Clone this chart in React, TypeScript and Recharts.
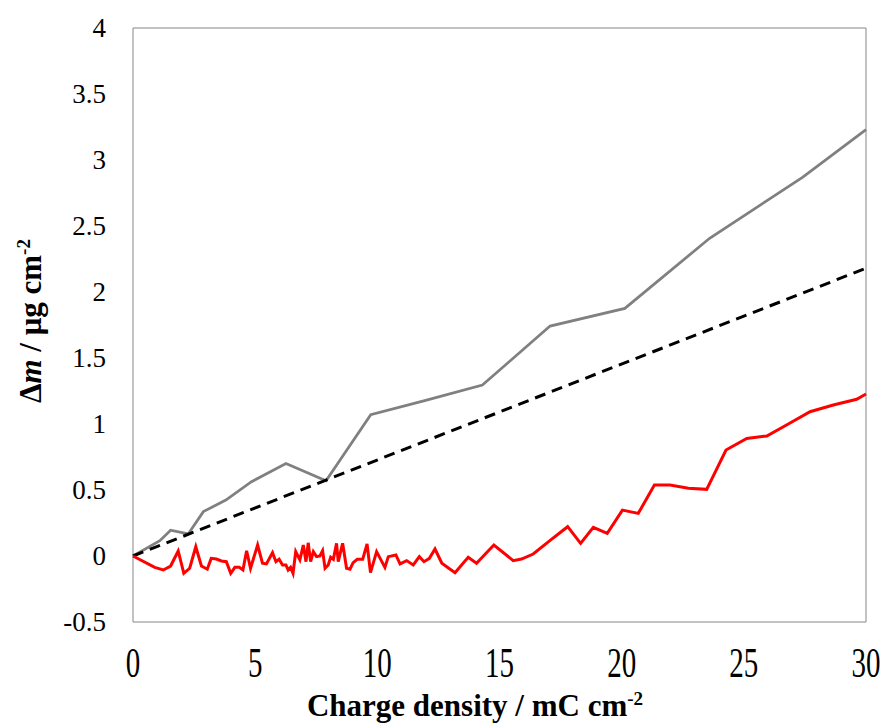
import { LineChart, Line, XAxis, YAxis, ReferenceArea } from 'recharts'

// measured mass change, grey trace
const grayX = [0, 1.1, 1.54, 2.26, 2.88, 3.8, 4.85, 6.26, 7.9, 9.73, 11.9, 14.3, 17.07, 20.13, 23.6, 27.4, 30]
const grayY = [0, 0.116, 0.195, 0.167, 0.336, 0.424, 0.563, 0.7, 0.57, 1.07, 1.175, 1.295, 1.742, 1.876, 2.407, 2.869, 3.23]

// theoretical (Faraday) line
const dashX = [0, 7.9, 19.1, 30]
const dashY = [0, 0.575, 1.389, 2.18]

// red trace
const redX = [
  0, 0.89, 1.24, 1.54, 1.85, 2.08, 2.32, 2.57, 2.8, 3.04, 3.2, 3.41, 3.62, 3.82, 4.0, 4.17, 4.35, 4.5, 4.65, 4.81,
  5.1, 5.3, 5.46, 5.71, 5.85, 5.98, 6.12, 6.26, 6.35, 6.45, 6.55, 6.66, 6.83, 6.97, 7.08, 7.17, 7.27, 7.38, 7.51,
  7.65, 7.76, 7.86, 7.99, 8.09, 8.2, 8.33, 8.4, 8.58, 8.74, 8.88, 9.01, 9.18, 9.4, 9.58, 9.72, 9.97, 10.31, 10.45,
  10.76, 10.93, 11.2, 11.47, 11.72, 11.91, 12.13, 12.36, 12.64, 13.18, 13.72, 14.06, 14.77, 15.56, 15.9, 16.38,
  17.06, 17.79, 18.32, 18.84, 19.41, 20.03, 20.68, 21.34, 21.98, 22.73, 23.48, 24.27, 25.12, 25.94, 26.82, 27.71,
  28.66, 29.62, 30,
]
const redY = [
  0, -0.086, -0.106, -0.076, 0.038, -0.131, -0.093, 0.07, -0.076, -0.1, -0.018, -0.023, -0.038, -0.043, -0.131,
  -0.086, -0.086, -0.106, 0.04, -0.093, 0.083, -0.055, -0.06, 0.025, -0.043, -0.025, -0.068, -0.068, -0.106, -0.086,
  -0.131, 0.033, -0.03, 0.083, -0.043, 0.1, -0.043, 0.033, -0.005, 0, 0.04, -0.093, -0.068, -0.01, -0.025, 0.096,
  -0.043, 0.096, -0.093, -0.1, -0.05, -0.025, -0.025, 0.091, -0.126, 0.033, -0.086, -0.005, 0.008, -0.06, -0.035,
  -0.068, -0.005, -0.043, -0.018, 0.053, -0.055, -0.126, -0.01, -0.055, 0.083, -0.035, -0.023, 0.015, 0.116, 0.222,
  0.096, 0.217, 0.172, 0.348, 0.323, 0.538, 0.538, 0.513, 0.505, 0.803, 0.891, 0.909, 1.0, 1.093, 1.144, 1.187, 1.227,
]

const xTicks = [0, 5, 10, 15, 20, 25, 30]
const yTicks = [-0.5, 0, 0.5, 1, 1.5, 2, 2.5, 3, 3.5, 4]

const toPoints = (xs: number[], ys: number[]) => xs.map((x, i) => ({ x, y: ys[i] }))

const grayData = toPoints(grayX, grayY)
const dashData = toPoints(dashX, dashY)
const redData = toPoints(redX, redY)

const FONT = '"Liberation Serif", "Times New Roman", serif'

const YTick = ({ x, y, payload }: any) => (
  <text x={x} y={y} dy="0.35em" textAnchor="end" fontFamily={FONT} fontSize={27} fill="#000">
    {String(payload.value)}
  </text>
)

const XTick = ({ x, y, payload }: any) => (
  <text
    transform={`translate(${x},${y}) scale(1,1.47)`}
    dy="0.35em"
    textAnchor="middle"
    fontFamily={FONT}
    fontSize={29}
    fill="#000"
  >
    {String(payload.value)}
  </text>
)

const YTitle = () => (
  <text
    transform="translate(41,321) rotate(-90)"
    textAnchor="middle"
    fontFamily={FONT}
    fontWeight="bold"
    fontSize={31}
    fill="#000"
  >
    <tspan>Δ</tspan>
    <tspan fontStyle="italic">m</tspan>
    <tspan> / μg cm</tspan>
    <tspan dy={-11} fontSize={19}>-2</tspan>
  </text>
)

const XTitle = () => (
  <text x={475} y={716} textAnchor="middle" fontFamily={FONT} fontWeight="bold" fontSize={31} fill="#000">
    <tspan>Charge density / mC cm</tspan>
    <tspan dy={-11} fontSize={19}>-2</tspan>
  </text>
)

export default function App() {
  return (
    <div style={{ position: 'absolute', left: 0, top: 0, background: '#fff' }}>
      <LineChart width={888} height={724} margin={{ top: 28, right: 22, bottom: 0, left: 0 }}>
        <XAxis
          type="number"
          dataKey="x"
          domain={[0, 30]}
          ticks={xTicks}
          axisLine={false}
          tickLine={false}
          tickSize={0}
          tickMargin={40}
          height={102}
          tick={<XTick />}
          label={{ content: () => <XTitle /> }}
        />
        <YAxis
          type="number"
          domain={[-0.5, 4]}
          ticks={yTicks}
          axisLine={false}
          tickLine={false}
          tickSize={0}
          tickMargin={27}
          width={133}
          tick={<YTick />}
          label={{ content: () => <YTitle /> }}
        />
        <ReferenceArea x1={0} x2={30} y1={-0.5} y2={4} fill="none" stroke="#868686" strokeWidth={1} />
        <Line
          data={grayData}
          dataKey="y"
          stroke="#808080"
          strokeWidth={2.75}
          dot={false}
          activeDot={false}
          isAnimationActive={false}
        />
        <Line
          data={dashData}
          dataKey="y"
          stroke="#000"
          strokeWidth={3}
          strokeDasharray="11 7"
          dot={false}
          activeDot={false}
          isAnimationActive={false}
        />
        <Line
          data={redData}
          dataKey="y"
          stroke="#ff0000"
          strokeWidth={3}
          dot={false}
          activeDot={false}
          isAnimationActive={false}
        />
      </LineChart>
    </div>
  )
}
